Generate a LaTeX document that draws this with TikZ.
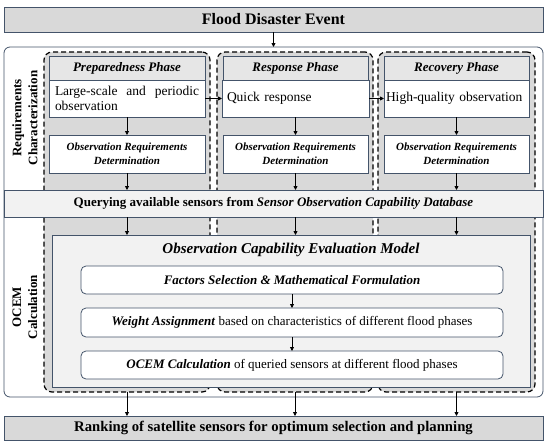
\documentclass[tikz,border=0pt]{standalone}
\usepackage{fontspec}
\setmainfont{Liberation Serif}
\usetikzlibrary{arrows.meta}
\definecolor{bd}{HTML}{44546A}
\definecolor{gA}{HTML}{D9D9D9}
\definecolor{gB}{HTML}{E6E6E6}
\definecolor{gC}{HTML}{F2F2F2}
\hyphenpenalty=10000
\exhyphenpenalty=10000
\begin{document}
\begin{tikzpicture}[x=1pt,y=-1pt,
  box/.style={draw=bd, line width=0.8pt, inner sep=0pt, outer sep=0pt},
  arr/.style={-{Triangle[length=4pt,width=4pt]}, line width=0.8pt, black},
  col/.style={fill=gA, draw=black, dash pattern=on 5pt off 3pt, line width=1.2pt, rounded corners=8pt, inner sep=0pt, outer sep=0pt, minimum height=340pt},
  hdr/.style={box, fill=gB, minimum height=24pt, font=\bfseries\itshape\fontsize{13}{15}\selectfont},
  body/.style={box, fill=white, minimum height=37pt, font=\fontsize{13.5}{15}\selectfont, inner xsep=5pt},
  ord/.style={box, fill=white, minimum height=38pt, align=center, font=\bfseries\itshape\fontsize{11}{14}\selectfont},
  inbox/.style={box, fill=white, rounded corners=5pt, minimum width=422pt, font=\fontsize{13}{15}\selectfont},
  side/.style={rotate=90, align=center, font=\bfseries\fontsize{13}{16}\selectfont},
]
\useasboundingbox (0,0) rectangle (550,445);

\node[box, fill=gA, minimum width=539pt, minimum height=25pt, font=\bfseries\fontsize{16}{18}\selectfont] (top) at (273.5,19.5) {Flood Disaster Event};

\node[box, fill=white, rounded corners=6pt, minimum width=539pt, minimum height=350pt] (cont) at (273.5,222) {};

\node[col, minimum width=166pt] (c1) at (127,222) {};
\node[col, minimum width=156pt] (c2) at (295,222) {};
\node[col, minimum width=157pt] (c3) at (456.5,222) {};

\node[box, fill=gC, minimum width=539pt, minimum height=27pt, font=\bfseries\fontsize{13}{15}\selectfont] (q) at (273.5,203.5) {Querying available sensors from \textit{Sensor Observation Capability Database}};

\node[box, fill=gC, minimum width=478pt, minimum height=152pt] (oc) at (291,311) {};
\node[font=\bfseries\itshape\fontsize{15}{17}\selectfont] (oct) at (291,250) {Observation Capability Evaluation Model};

\node[inbox, minimum height=28pt] (f1) at (292,280) {\textbf{\textit{Factors Selection \& Mathematical Formulation}}};
\node[inbox, minimum height=29pt] (f2) at (292,322.5) {\textbf{\textit{Weight Assignment}} based on characteristics of different flood phases};
\node[inbox, minimum height=28pt] (f3) at (292,365) {\textbf{\textit{OCEM Calculation}} of queried sensors at different flood phases};

\node[hdr, minimum width=156pt] (p1h) at (127,68) {Preparedness Phase};
\node[hdr, minimum width=145pt] (p2h) at (295.5,68) {Response Phase};
\node[hdr, minimum width=145pt] (p3h) at (456.5,68) {Recovery Phase};

\node[body, minimum width=156pt, text width=144pt, align=justify] (p1b) at (127,98.5) {Large-scale and periodic observation};
\node[body, minimum width=145pt, text width=137pt, align=left] (p2b) at (295.5,98.5) {Quick response};
\node[body, minimum width=145pt, text width=141pt, align=left, inner xsep=2pt] (p3b) at (456.5,98.5) {High-quality observation};

\node[ord, minimum width=156pt] (o1) at (127,154) {Observation Requirements\\Determination};
\node[ord, minimum width=145pt] (o2) at (295.5,154) {Observation Requirements\\Determination};
\node[ord, minimum width=145pt] (o3) at (456.5,154) {Observation Requirements\\Determination};

\node[box, fill=gA, minimum width=539pt, minimum height=24pt, font=\bfseries\fontsize{14.7}{17}\selectfont] (bot) at (273.5,428) {Ranking of satellite sensors for optimum selection and planning};

\node[side] (l1) at (25,118) {Requirements\\Characterization};
\node[side] (l2) at (25,307) {OCEM\\Calculation};

\draw[arr] (top.south) -- (top.south |- cont.north);
\draw[arr] (p1b.east) -- (p2b.west);
\draw[arr] (p2b.east) -- (p3b.west);
\foreach \i in {1,2,3}{
  \draw[arr] (p\i b.south) -- (o\i.north);
  \draw[arr] (o\i.south) -- (o\i.south |- q.north);
  \draw[arr] (o\i.south |- q.south) -- (o\i.south |- oc.north);
  \draw[arr] (c\i.south) -- (c\i.south |- bot.north);
}
\draw[arr] (f1.south) -- (f2.north);
\draw[arr] (f2.south) -- (f3.north);
\end{tikzpicture}
\end{document}
